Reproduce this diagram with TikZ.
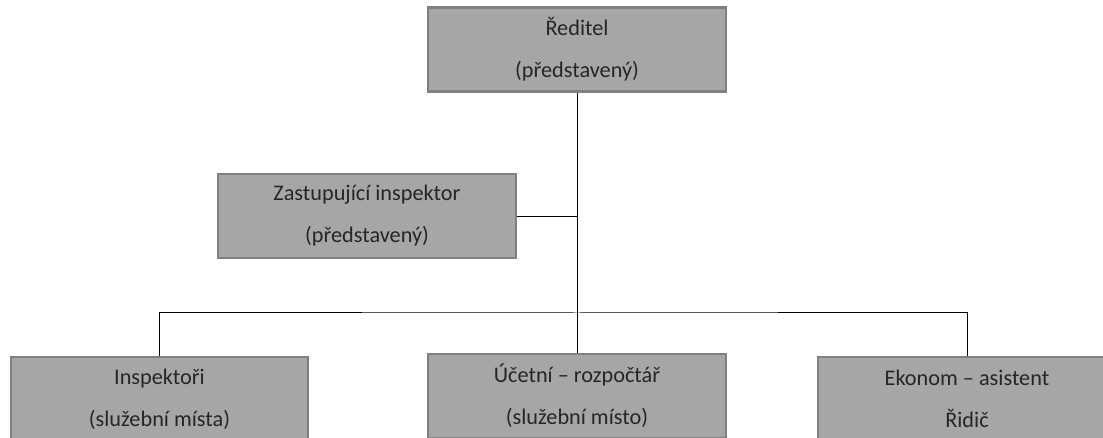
\documentclass[tikz,border=0pt]{standalone}
\usepackage{fontspec}
\setmainfont{Carlito}
\usetikzlibrary{positioning}

\begin{document}
\begin{tikzpicture}[x=0.75pt,y=-0.75pt,
postnode/.style={rectangle, draw=black!50, line width=1.6pt, fill=black!35,
  minimum width=297.5pt*0.75, minimum height=84pt*0.75, align=center,
  text=black!85, font=\fontsize{16.7}{31.5}\selectfont},
link/.style={draw=black, line width=0.75pt},
]
\useasboundingbox (0,0) rectangle (1103,438);
\clip (0,0) rectangle (1103,438);

\node[postnode]          (reditel)   at (577,49.5)   {Ředitel\\(představený)};
\node[postnode]          (zastupce)  at (367,216)    {Zastupující inspektor\\(představený)};
\node[postnode]          (inspektori) at (159.5,399) {Inspektoři\\(služební místa)};
\node[postnode]          (ucetni)    at (577,396)    {Účetní – rozpočtář\\(služební místo)};
\node[postnode]          (ekonom)    at (967,399)    {Ekonom – asistent\\Řidič};

\coordinate (odbocka) at (577,217);
\coordinate (sbernice) at (577,313);

\draw[link] (reditel.south) -- (ucetni.north);
\draw[link] (zastupce.east |- odbocka) -- (odbocka);
\draw[link] (inspektori.north) |- (sbernice) -| (ekonom.north);

\end{tikzpicture}
\end{document}
